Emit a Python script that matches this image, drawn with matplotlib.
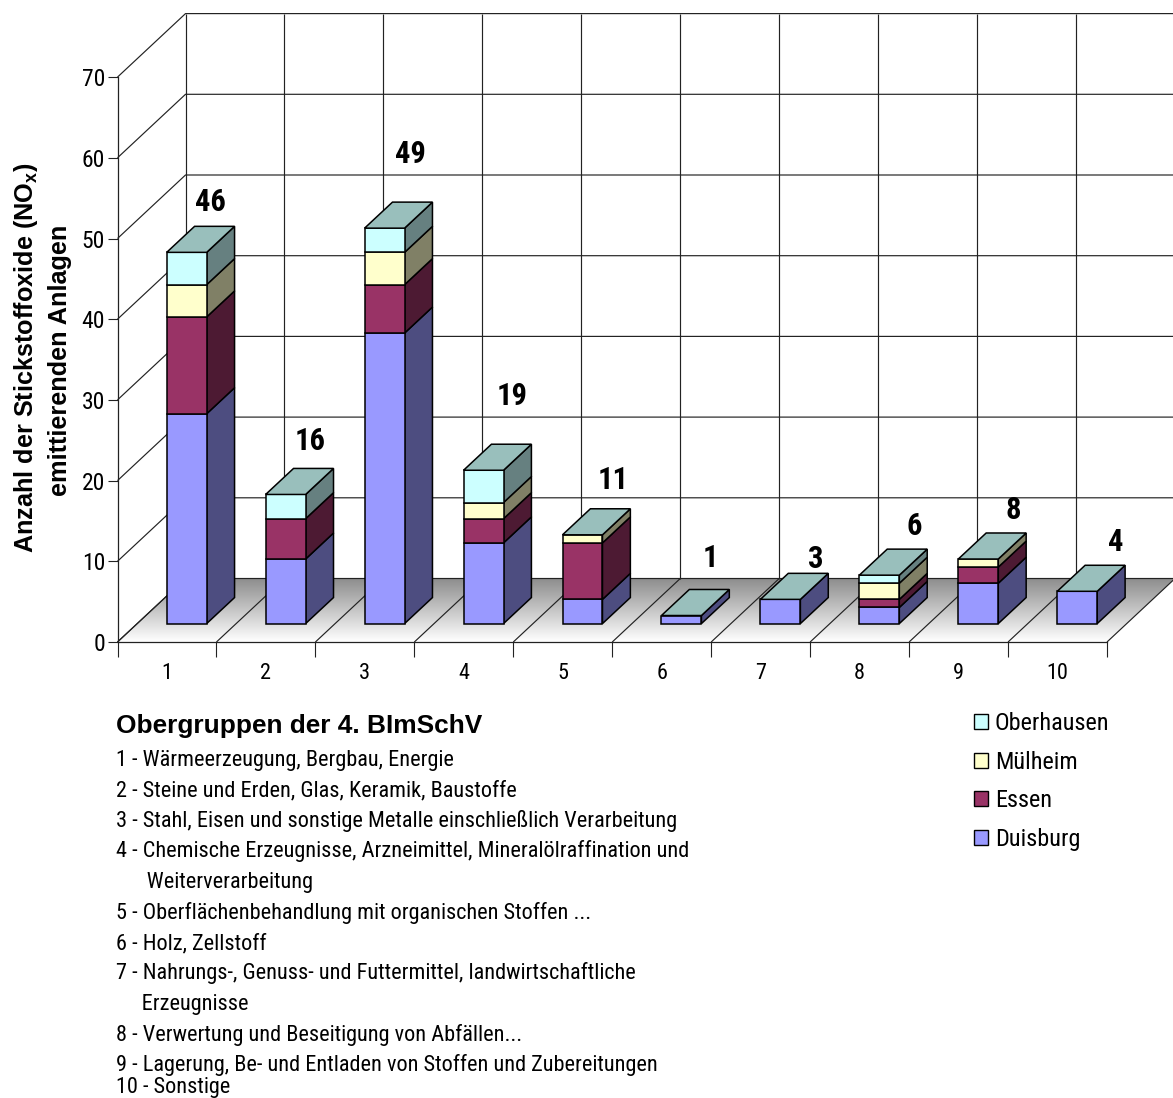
import matplotlib
matplotlib.use("Agg")
from matplotlib import pyplot as plt
from matplotlib.patches import Patch, Polygon
from matplotlib.transforms import Affine2D
import numpy as np

W, H = 1173, 1098

categories = ["1", "2", "3", "4", "5", "6", "7", "8", "9", "10"]
duisburg = [26, 8, 36, 10, 3, 1, 3, 2, 5, 4]
essen = [12, 5, 6, 3, 7, 0, 0, 1, 2, 0]
muelheim = [4, 0, 4, 2, 1, 0, 0, 2, 1, 0]
oberhausen = [4, 3, 3, 4, 0, 0, 0, 1, 0, 0]

series_names = ["Duisburg", "Essen", "Mülheim", "Oberhausen"]
series_values = [duisburg, essen, muelheim, oberhausen]
front_colors = ["#9999ff", "#993366", "#ffffcc", "#ccffff"]
side_colors = ["#4d4d80", "#4d1a33", "#808066", "#668080"]
top_color = "#99bfbc"

y_ticks = [0, 10, 20, 30, 40, 50, 60, 70]

group_title = "Obergruppen der 4. BImSchV"
group_lines = [
    "1 - Wärmeerzeugung, Bergbau, Energie",
    "2 - Steine und Erden, Glas, Keramik, Baustoffe",
    "3 - Stahl, Eisen und sonstige Metalle einschließlich Verarbeitung",
    "4 - Chemische Erzeugnisse, Arzneimittel, Mineralölraffination und",
    "      Weiterverarbeitung",
    "5 - Oberflächenbehandlung mit organischen Stoffen ...",
    "6 - Holz, Zellstoff",
    "7 - Nahrungs-, Genuss- und Futtermittel, landwirtschaftliche",
    "     Erzeugnisse",
    "8 - Verwertung und Beseitigung von Abfällen...",
    "9 - Lagerung, Be- und Entladen von Stoffen und Zubereitungen",
    "10 - Sonstige",
]

narrow = ["Roboto Condensed", "Liberation Sans"]
plt.rcParams["font.family"] = narrow
plt.rcParams["mathtext.fontset"] = "custom"
plt.rcParams["mathtext.bf"] = "Liberation Sans:bold"
plt.rcParams["mathtext.rm"] = "Liberation Sans"

fig = plt.figure(figsize=(W / 100, H / 100), dpi=100)
ax = fig.add_axes([0, 0, 1, 1])

# scale of the front plane, the axes fill the whole figure
x0_px, y0_px = 117.5, 642.0
cat_px, val_px = 98.95, 8.07
ax.set_xlim(-x0_px / cat_px, (W - x0_px) / cat_px)
ax.set_ylim((y0_px - H) / val_px, y0_px / val_px)
ax.patch.set_visible(False)

# oblique depth offset, in data units
depth_x = 68 / cat_px
depth_y = 63.5 / val_px


def project(cat, val, depth=0.0):
    return cat + depth * depth_x, val + depth * depth_y


def pts(*corners):
    return [project(*c) for c in corners]


n = len(categories)
line_col = "#222222"

# floor with its grey fade towards the back wall
fade = np.linspace(0.55, 1.0, 256).reshape(-1, 1)
floor = Polygon(pts((0, 0, 0), (n, 0, 0), (n, 0, 1), (0, 0, 1)), closed=True,
                facecolor="none", edgecolor="none", transform=ax.transData)
ax.add_patch(floor)
img = ax.imshow(fade, cmap="gray", vmin=0, vmax=1, aspect="auto", origin="upper",
                extent=(0, n + depth_x, 0, depth_y), zorder=1, interpolation="bilinear")
img.set_clip_path(floor)
ax.set_xlim(-x0_px / cat_px, (W - x0_px) / cat_px)
ax.set_ylim((y0_px - H) / val_px, y0_px / val_px)

# wall grid
for v in y_ticks:
    xs, ys = zip(*pts((0, v, 0), (0, v, 1), (n, v, 1)))
    ax.plot(xs, ys, color=line_col, lw=0.85, zorder=2, solid_capstyle="butt")
for k in range(n + 1):
    xs, ys = zip(*pts((k, 0, 1), (k, y_ticks[-1], 1)))
    ax.plot(xs, ys, color=line_col, lw=0.85, zorder=2, solid_capstyle="butt")
    xs, ys = zip(*pts((k, 0, 0), (k, 0, 1)))
    ax.plot(xs, ys, color=line_col, lw=0.85, zorder=2, solid_capstyle="butt")

# stacked bars
bar_w = 0.404
d0, d1 = 0.29, 0.70
edge = dict(edgecolor="black", linewidth=1.1, joinstyle="miter", zorder=3)
tops = []
for i in range(n):
    l = i + 0.5 - bar_w / 2
    r = i + 0.5 + bar_w / 2
    base = 0
    for vals, fc, sc in zip(series_values, front_colors, side_colors):
        v = vals[i]
        if v == 0:
            continue
        ax.add_patch(Polygon(pts((r, base, d0), (r, base, d1), (r, base + v, d1), (r, base + v, d0)),
                             closed=True, facecolor=sc, **edge))
        ax.add_patch(Polygon(pts((l, base, d0), (r, base, d0), (r, base + v, d0), (l, base + v, d0)),
                             closed=True, facecolor=fc, **edge))
        base += v
    ax.add_patch(Polygon(pts((l, base, d0), (r, base, d0), (r, base, d1), (l, base, d1)),
                         closed=True, facecolor=top_color, **edge))
    tops.append(base)

# totals sit above each bar, nudged by hand
label_nudge = [(-4, 24), (-3, 27), (-2, 48), (1, 48), (3, 29), (1, 31), (7, 14), (7, 23), (7, 23), (11, 23)]
for i, total in enumerate(tops):
    ax.annotate(str(total), project(i + 0.5, total, d1), xytext=label_nudge[i],
                textcoords="offset pixels", ha="center", va="center",
                fontsize=22, fontweight="bold", zorder=5)

# axes
for side in ["top", "right"]:
    ax.spines[side].set_visible(False)
ax.spines["left"].set_position(("data", 0))
ax.spines["bottom"].set_position(("data", 0))
ax.spines["left"].set_bounds(0, y_ticks[-1])
ax.spines["bottom"].set_bounds(0, n)
for side in ["left", "bottom"]:
    ax.spines[side].set_color(line_col)
    ax.spines[side].set_linewidth(0.9)
    ax.spines[side].set_zorder(4)
ax.set_yticks(y_ticks)
ax.set_xticks(range(n + 1))
ax.set_xticklabels([])
ax.set_xticks(np.arange(n) + 0.5, labels=categories, minor=True)
ax.tick_params(axis="y", direction="out", length=7, width=0.8, color=line_col, labelsize=17, pad=2)
ax.tick_params(axis="x", which="major", direction="out", length=10.5, width=0.8, color=line_col)
ax.tick_params(axis="x", which="minor", length=0, labelsize=16, pad=15)

# everything outside the plot is placed in pixels from the top left
px = Affine2D().scale(1, -1).translate(0, H)

ax.text(26, 358, r"Anzahl der Stickstoffoxide (NO$_{\mathbf{x}}$)", transform=px, rotation=90,
        ha="center", va="center", fontsize=18.2, fontweight="bold", family="Liberation Sans")
ax.text(60, 360, "emittierenden Anlagen", transform=px, rotation=90,
        ha="center", va="center", fontsize=18.2, fontweight="bold", family="Liberation Sans")

ax.text(116, 733, group_title, transform=px, ha="left", va="baseline", fontsize=18.9, fontweight="bold",
        family="Liberation Sans")
for j, line in enumerate(group_lines):
    # last line pulled up a little so it stays inside the figure
    y_line = min(766 + j * 30.5, 1093)
    ax.text(116, y_line, line, transform=px, ha="left", va="baseline", fontsize=16)

handles = [Patch(facecolor=c, edgecolor="black", linewidth=1.0) for c in front_colors[::-1]]
ax.legend(handles, series_names[::-1], loc="upper left", bbox_to_anchor=(967 / W, 1 - 705 / H),
          bbox_transform=fig.transFigure, frameon=False, fontsize=17.5, handlelength=0.57,
          handleheight=0.57, handletextpad=0.28, labelspacing=0.64, borderpad=0.3, borderaxespad=0)

fig.savefig("out.png", dpi=100)
